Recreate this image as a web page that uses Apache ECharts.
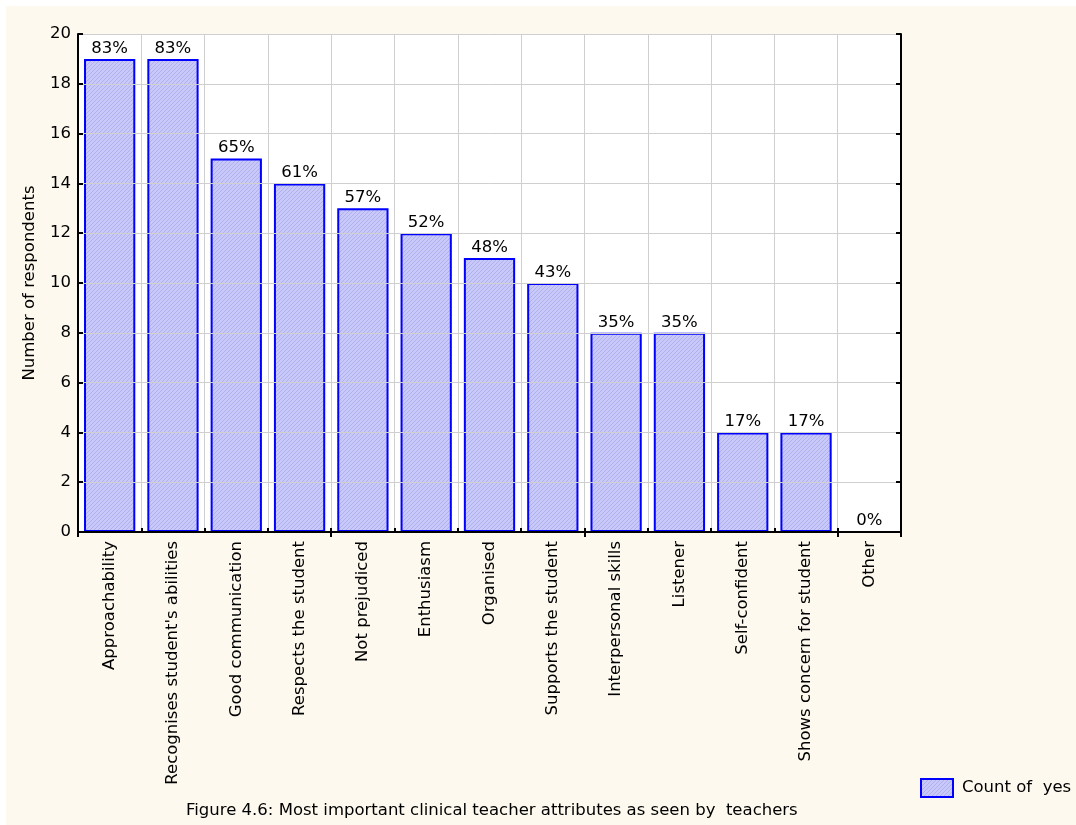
<!DOCTYPE html>
<html>
<head>
<meta charset="utf-8">
<script src="https://cdn.jsdelivr.net/npm/echarts@6/dist/echarts.min.js"></script>
<style>
  html, body { margin: 0; padding: 0; background: #ffffff; }
  #frame { position: absolute; left: 6px; top: 6px; width: 1070px; height: 819px; background: #fdf9ee; }
  #chart { position: absolute; left: 0; top: 0; width: 1076px; height: 825px; }
</style>
</head>
<body>
<div id="frame"></div>
<div id="chart"></div>
<script>
// Attributes named by teachers, with respondent counts and share of respondents
const categories = [
  'Approachability',
  "Recognises student's abilities",
  'Good communication',
  'Respects the student',
  'Not prejudiced',
  'Enthusiasm',
  'Organised',
  'Supports the student',
  'Interpersonal skills',
  'Listener',
  'Self-confident',
  'Shows concern for student',
  'Other'
];
const counts = [19, 19, 15, 14, 13, 12, 11, 10, 8, 8, 4, 4, 0];
const percents = [83, 83, 65, 61, 57, 52, 48, 43, 35, 35, 17, 17, 0];
const yTicks = [0, 2, 4, 6, 8, 10, 12, 14, 16, 18, 20];

// Diagonal hatch fill for the bars
function hatch() {
  const c = document.createElement('canvas');
  c.width = 4; c.height = 4;
  const g = c.getContext('2d');
  g.fillStyle = '#c8c8f9';
  g.fillRect(0, 0, 4, 4);
  g.strokeStyle = '#b0b0ee';
  g.lineWidth = 1;
  g.beginPath();
  g.moveTo(-1, 5); g.lineTo(5, -1);
  g.stroke();
  return c;
}
const fill = { image: hatch(), repeat: 'repeat' };

const font = 'DejaVu Sans, Verdana, sans-serif';
const fs = 16.5;
const chart = echarts.init(document.getElementById('chart'), null, { renderer: 'canvas' });

const yBase = {
  type: 'value', min: yTicks[0], max: yTicks[yTicks.length - 1], interval: 2,
  z: 3,
  axisLine: { show: true, lineStyle: { color: '#000', width: 2 } },
  axisTick: { show: true, inside: true, length: 5, lineStyle: { color: '#000', width: 2 } }
};

chart.setOption({
  backgroundColor: 'transparent',
  animation: false,
  textStyle: { fontFamily: font, color: '#000' },
  title: {
    text: 'Figure 4.6: Most important clinical teacher attributes as seen by  teachers',
    left: 181, top: 797,
    textStyle: { fontFamily: font, fontSize: fs, fontWeight: 'normal', color: '#000' }
  },
  legend: {
    data: ['Count of  yes'],
    left: 915, top: 773,
    itemWidth: 32, itemHeight: 18, itemGap: 8,
    icon: 'rect',
    textStyle: { fontFamily: font, fontSize: fs, color: '#000', padding: [0, 0, 0, 4] }
  },
  grid: { left: 78, right: 175, top: 34, bottom: 293, backgroundColor: '#fff', show: true, borderWidth: 0 },
  xAxis: [{
    type: 'category', data: categories, position: 'bottom', z: 3,
    axisLine: { show: true, lineStyle: { color: '#000', width: 2 } },
    axisTick: { show: true, inside: true, length: 4, lineStyle: { color: '#000', width: 2 } },
    splitLine: { show: true, lineStyle: { color: '#cfcfcf', width: 1 } },
    axisLabel: { rotate: 90, margin: 9, fontSize: fs, color: '#000', fontFamily: font, interval: 0 }
  }, {
    type: 'category', data: categories, position: 'top', z: 3,
    axisLine: { show: true, lineStyle: { color: '#000', width: 2 } },
    axisTick: { show: true, inside: true, length: 5, lineStyle: { color: '#000', width: 2 } },
    axisLabel: { show: false }
  }],
  yAxis: [Object.assign({}, yBase, {
    position: 'left',
    name: 'Number of respondents', nameLocation: 'middle', nameGap: 40,
    nameTextStyle: { fontFamily: font, fontSize: fs, color: '#000' },
    splitLine: { show: true, lineStyle: { color: '#cfcfcf', width: 1 } },
    axisLabel: { fontSize: fs, color: '#000', fontFamily: font, margin: 7 }
  }), Object.assign({}, yBase, {
    position: 'right',
    splitLine: { show: false },
    axisLabel: { show: false }
  })],
  series: [{
    name: 'Count of  yes',
    type: 'bar',
    data: counts,
    barCategoryGap: '19%',
    itemStyle: { color: fill, borderColor: '#0000ff', borderWidth: 2 },
    label: {
      show: true, position: 'top', distance: 2,
      fontSize: fs, color: '#000', fontFamily: font,
      formatter: p => percents[p.dataIndex] + '%'
    }
  }]
});
</script>
</body>
</html>
